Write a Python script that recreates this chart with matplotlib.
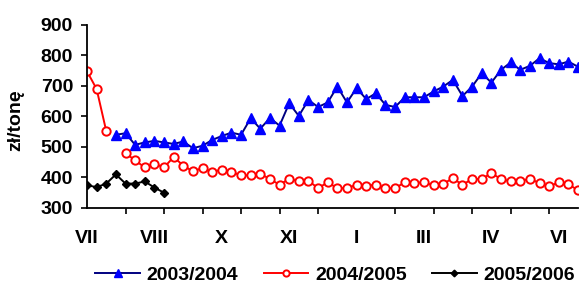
import numpy as np
import matplotlib
matplotlib.use("Agg")
import matplotlib.pyplot as plt
from matplotlib.ticker import FixedLocator

nan = np.nan

# weekly prices, zł/tonę (52 weeks, July -> June)
s2003 = [nan, nan, nan, 540, 545, 507, 515, 520, 515, 510, 518, 496, 504, 523,
         536, 547, 540, 594, 560, 595, 570, 643, 602, 654, 631, 646, 698, 646,
         693, 657, 676, 638, 631, 663, 663, 663, 682, 698, 720, 667, 698, 742,
         711, 753, 777, 753, 766, 791, 775, 771, 780, 763]
s2004 = [748, 690, 552, nan, 480, 456, 433, 445, 433, 467, 439, 420, 431, 418,
         426, 418, 407, 407, 412, 395, 376, 396, 387, 389, 365, 384, 365, 365,
         376, 373, 376, 365, 365, 384, 382, 384, 374, 380, 397, 376, 395, 395,
         414, 395, 387, 389, 395, 382, 371, 384, 378, 358]
s2005 = [375, 368, 380, 410, 380, 380, 387, 367, 350]

month_labels = ["VII", "VIII", "X", "XI", "I", "III", "IV", "VI"]
month_pos = [0, 7, 14, 21, 28, 35, 42, 49]
tick_pos = list(range(0, 52, 4))
series_names = ["2003/2004", "2004/2005", "2005/2006"]

plt.rcParams['font.family'] = ['Liberation Sans', 'DejaVu Sans']
plt.rcParams['font.weight'] = 'bold'

fig = plt.figure(figsize=(5.8, 2.95), dpi=100)
ax = fig.add_axes([0.15, 0.295, 0.8466, 0.6203])

x03 = np.arange(len(s2003))
x04 = np.arange(len(s2004))
x05 = np.arange(len(s2005))

ax.plot(x03, s2003, color='#000080', lw=1.4, marker='^', markersize=7.5,
        markerfacecolor='#0000FF', markeredgecolor='#0000FF', label=series_names[0])
ax.plot(x04, s2004, color='#FF0000', lw=1.4, marker='o', markersize=6,
        markerfacecolor='white', markeredgecolor='#FF0000', markeredgewidth=1.4,
        label=series_names[1])
ax.plot(x05, s2005, color='black', lw=1.4, marker='D', markersize=4.5,
        markerfacecolor='black', markeredgecolor='black', label=series_names[2])

ax.set_xlim(0, 51)
ax.set_ylim(300, 900)
ax.set_yticks(range(300, 901, 100))
ax.xaxis.set_major_locator(FixedLocator(month_pos))
ax.set_xticklabels(month_labels)
ax.xaxis.set_minor_locator(FixedLocator(tick_pos))
ax.tick_params(axis='x', which='major', length=0, pad=16, labelsize=14)
ax.tick_params(axis='x', which='minor', length=4, width=1.2, direction='out')
ax.tick_params(axis='y', length=4, width=1.2, direction='out', pad=6, labelsize=14)

for side in ['top', 'right']:
    ax.spines[side].set_visible(False)
for side in ['left', 'bottom']:
    ax.spines[side].set_linewidth(1.3)

fig.text(0.028, 0.593, "zł/tonę", rotation=90, ha='center', va='center',
         fontsize=14, fontweight='bold')

leg = fig.legend(loc='center', bbox_to_anchor=(0.578, 0.068), ncol=3, frameon=False,
                 fontsize=14, handlelength=2.3, handletextpad=0.35, columnspacing=1.3,
                 borderaxespad=0, borderpad=0, markerscale=0.75)

fig.savefig("out.png", dpi=100)
